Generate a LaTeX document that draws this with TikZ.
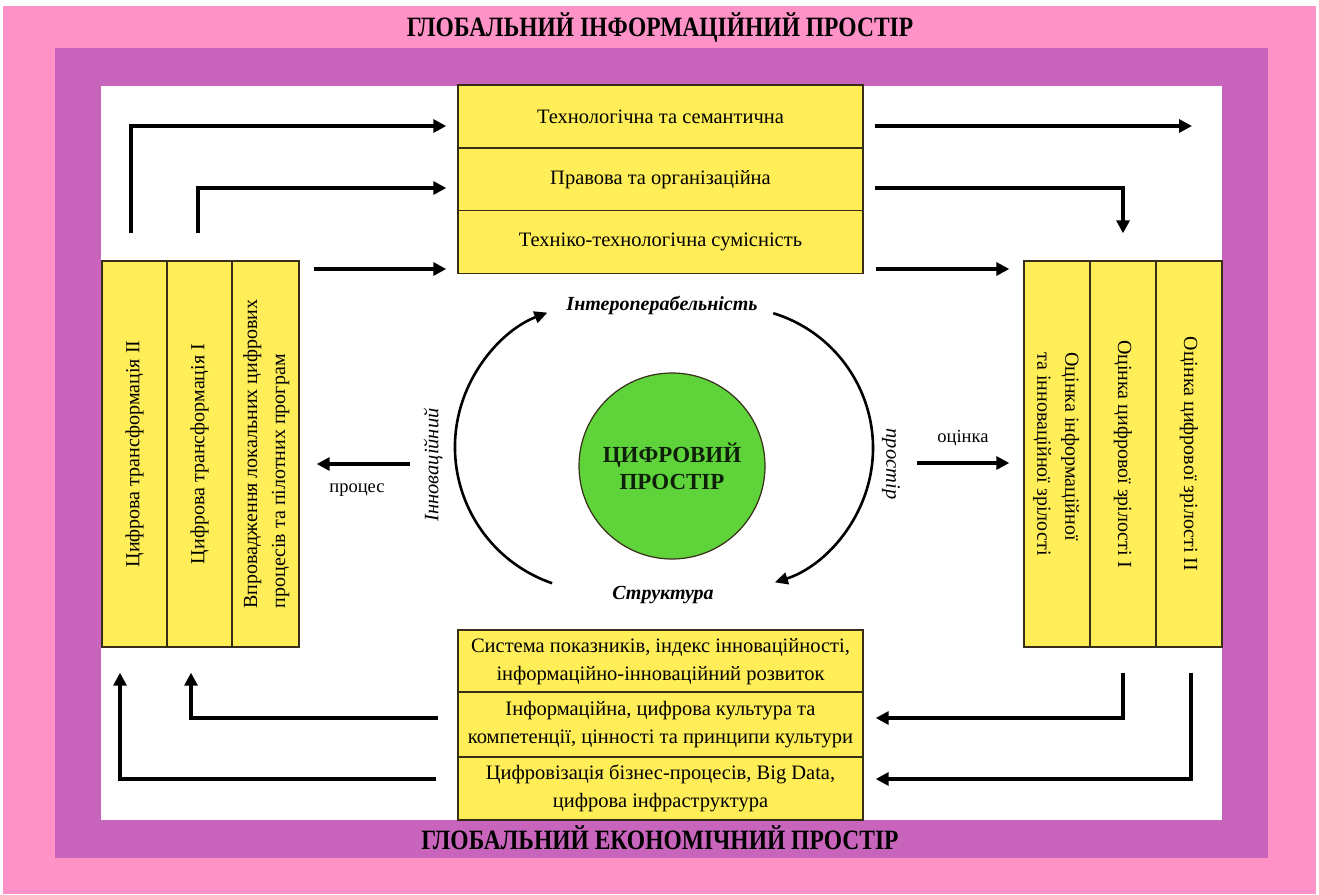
\documentclass[tikz,border=0pt]{standalone}
\usepackage{fontspec}
\setmainfont{Liberation Serif}
\usetikzlibrary{arrows.meta,calc}
\definecolor{pinkbg}{RGB}{255,147,200}
\definecolor{purplebg}{RGB}{200,100,188}
\definecolor{yel}{RGB}{255,238,88}
\definecolor{grn}{RGB}{94,211,58}
\definecolor{edgec}{RGB}{55,45,25}
\tikzset{
  ybox/.style={draw=edgec, line width=1.4pt, fill=yel, inner sep=2pt, align=center, font=\fontsize{20.5}{28}\selectfont},
  vbox/.style={draw=edgec, line width=1.4pt, fill=yel, inner sep=2pt, align=center, font=\fontsize{20}{28}\selectfont},
  arr/.style={line width=3.2pt, -{Triangle[length=13pt,width=13pt]}},
  arcarr/.style={line width=2.6pt, -{Triangle[length=13pt,width=12pt]}},
  titletext/.style={font=\bfseries\fontsize{28}{32}\selectfont, inner sep=0pt},
  lbl/.style={font=\fontsize{18.5}{22}\selectfont, inner sep=1pt},
  ilbl/.style={font=\itshape\fontsize{20.5}{24}\selectfont, inner sep=1pt},
  bilbl/.style={font=\bfseries\itshape\fontsize{20}{24}\selectfont, inner sep=1pt},
}
\begin{document}
\begin{tikzpicture}[x=1pt,y=-1pt]
\useasboundingbox (0,0) rectangle (1319,894);
\fill[white] (0,0) rectangle (1319,894);
\fill[pinkbg] (3,6) rectangle (1316,894);
\fill[purplebg] (55,48) rectangle (1268,858);
\fill[white] (101,86) rectangle (1222,820);

% titles
\node[titletext] (gtop) at (660,28) {\scalebox{0.84}[1]{ГЛОБАЛЬНИЙ ІНФОРМАЦІЙНИЙ ПРОСТІР}};
\node[titletext] (gbot) at (660,838) {\scalebox{0.84}[1]{ГЛОБАЛЬНИЙ ЕКОНОМІЧНИЙ ПРОСТІР}};

% top stack
\node[ybox, minimum width=405pt, minimum height=63pt] (T1) at (660.5,116.5) {\raisebox{-3pt}{Технологічна та семантична}};
\node[ybox, minimum width=405pt, minimum height=62pt] (T2) at (660.5,179.5) {\raisebox{-2pt}{Правова та організаційна}};
\node[ybox, minimum width=405pt, minimum height=63pt] (T3) at (660.5,242) {\raisebox{-2pt}{Техніко-технологічна сумісність}};

% bottom stack
\node[ybox, minimum width=405pt, minimum height=62pt] (B1) at (660.5,661) {\raisebox{-5pt}{\begin{tabular}{@{}c@{}}Система показників, індекс інноваційності,\\інформаційно-інноваційний розвиток\end{tabular}}};
\node[ybox, minimum width=405pt, minimum height=65pt] (B2) at (660.5,724.5) {Інформаційна, цифрова культура та\\компетенції, цінності та принципи культури};
\node[ybox, minimum width=405pt, minimum height=63pt] (B3) at (660.5,788.5) {Цифровізація бізнес-процесів, Big Data,\\цифрова інфраструктура};

% left stack
\node[vbox, minimum width=65pt, minimum height=386pt] (L1) at (134.5,454) {\rotatebox{90}{Цифрова трансформація II}};
\node[vbox, minimum width=65pt, minimum height=386pt] (L2) at (199.5,454) {\rotatebox{90}{Цифрова трансформація I}};
\node[vbox, minimum width=67pt, minimum height=386pt] (L3) at (265.5,454) {\rotatebox{90}{\begin{tabular}{@{}l@{}}Впровадження локальних цифрових\\процесів та пілотних програм\end{tabular}}};

% right stack
\node[vbox, minimum width=66pt, minimum height=386pt] (R1) at (1057,454) {\rotatebox{-90}{\begin{tabular}{@{}l@{}}Оцінка інформаційної\\та інноваційної зрілості\end{tabular}}};
\node[vbox, minimum width=66pt, minimum height=386pt] (R2) at (1123,454) {\rotatebox{-90}{Оцінка цифрової зрілості I}};
\node[vbox, minimum width=66pt, minimum height=386pt] (R3) at (1189,454) {\rotatebox{-90}{Оцінка цифрової зрілості II}};

% centre
\node[circle, draw=edgec, line width=1.2pt, fill=grn, minimum size=186pt, inner sep=0pt,
      font=\bfseries\fontsize{23}{27}\selectfont, text=black!85!grn, align=center] (C) at (672,466) {ЦИФРОВИЙ\\ПРОСТІР};
\node[bilbl] (inter) at (662,305) {Інтероперабельність};
\node[bilbl] (struct) at (663,595) {Структура};
\node[ilbl, rotate=90] (innov) at (433,465) {Інноваційний};
\node[ilbl, rotate=-90] (prost) at (891,464) {простір};

\coordinate (la0) at (552.1,583.2);
\draw[arcarr] (la0) arc[start angle=251, end angle=111, radius=144pt];
\coordinate (ra0) at (773.2,313.2);
\draw[arcarr] (ra0) arc[start angle=73, end angle=-72.3, radius=141pt];

% top connectors
\draw[arr] ([xshift=-3.5pt,yshift=27pt]L1.north) |- ([xshift=-11pt,yshift=-9.5pt]T1.west);
\draw[arr] ([xshift=-1.5pt,yshift=27pt]L2.north) |- ([xshift=-11pt,yshift=-8.5pt]T2.west);
\coordinate (a3) at ([xshift=-11pt,yshift=-27pt]T3.west);
\coordinate (l3) at ([xshift=14pt]L3.east);
\draw[arr] (l3 |- a3) -- (a3);

\coordinate (e1) at (1192,126);
\draw[arr] ([xshift=11pt,yshift=-9.5pt]T1.east) -- (e1);
\draw[arr] ([xshift=11pt,yshift=-8.5pt]T2.east) -| ([yshift=27pt]R2.north);
\coordinate (r1w) at ([xshift=-14pt]R1.west);
\coordinate (t3e) at ([xshift=12pt,yshift=-27pt]T3.east);
\draw[arr] (t3e) -- (r1w |- t3e);

% middle connectors
\draw[arr] ([xshift=110pt,yshift=-10pt]L3.east) -- ([xshift=17pt,yshift=-10pt]L3.east);
\node[lbl] (proc) at (357,490) {процес};
\draw[arr] ([xshift=-106pt,yshift=-9pt]R1.west) -- ([xshift=-14pt,yshift=-9pt]R1.west);
\node[lbl] (ocin) at (963,438) {оцінка};

% bottom connectors
\draw[arr] ([yshift=-25pt]R2.south) |- ([xshift=12pt,yshift=6.5pt]B2.east);
\draw[arr] ([xshift=2pt,yshift=-25pt]R3.south) |- ([xshift=12pt,yshift=9.5pt]B3.east);
\draw[arr] ([xshift=-19pt,yshift=6.5pt]B2.west) -| ([xshift=-8.5pt,yshift=-25pt]L2.south);
\draw[arr] ([xshift=-21pt,yshift=9.5pt]B3.west) -| ([xshift=-14.5pt,yshift=-25pt]L1.south);
\end{tikzpicture}
\end{document}
